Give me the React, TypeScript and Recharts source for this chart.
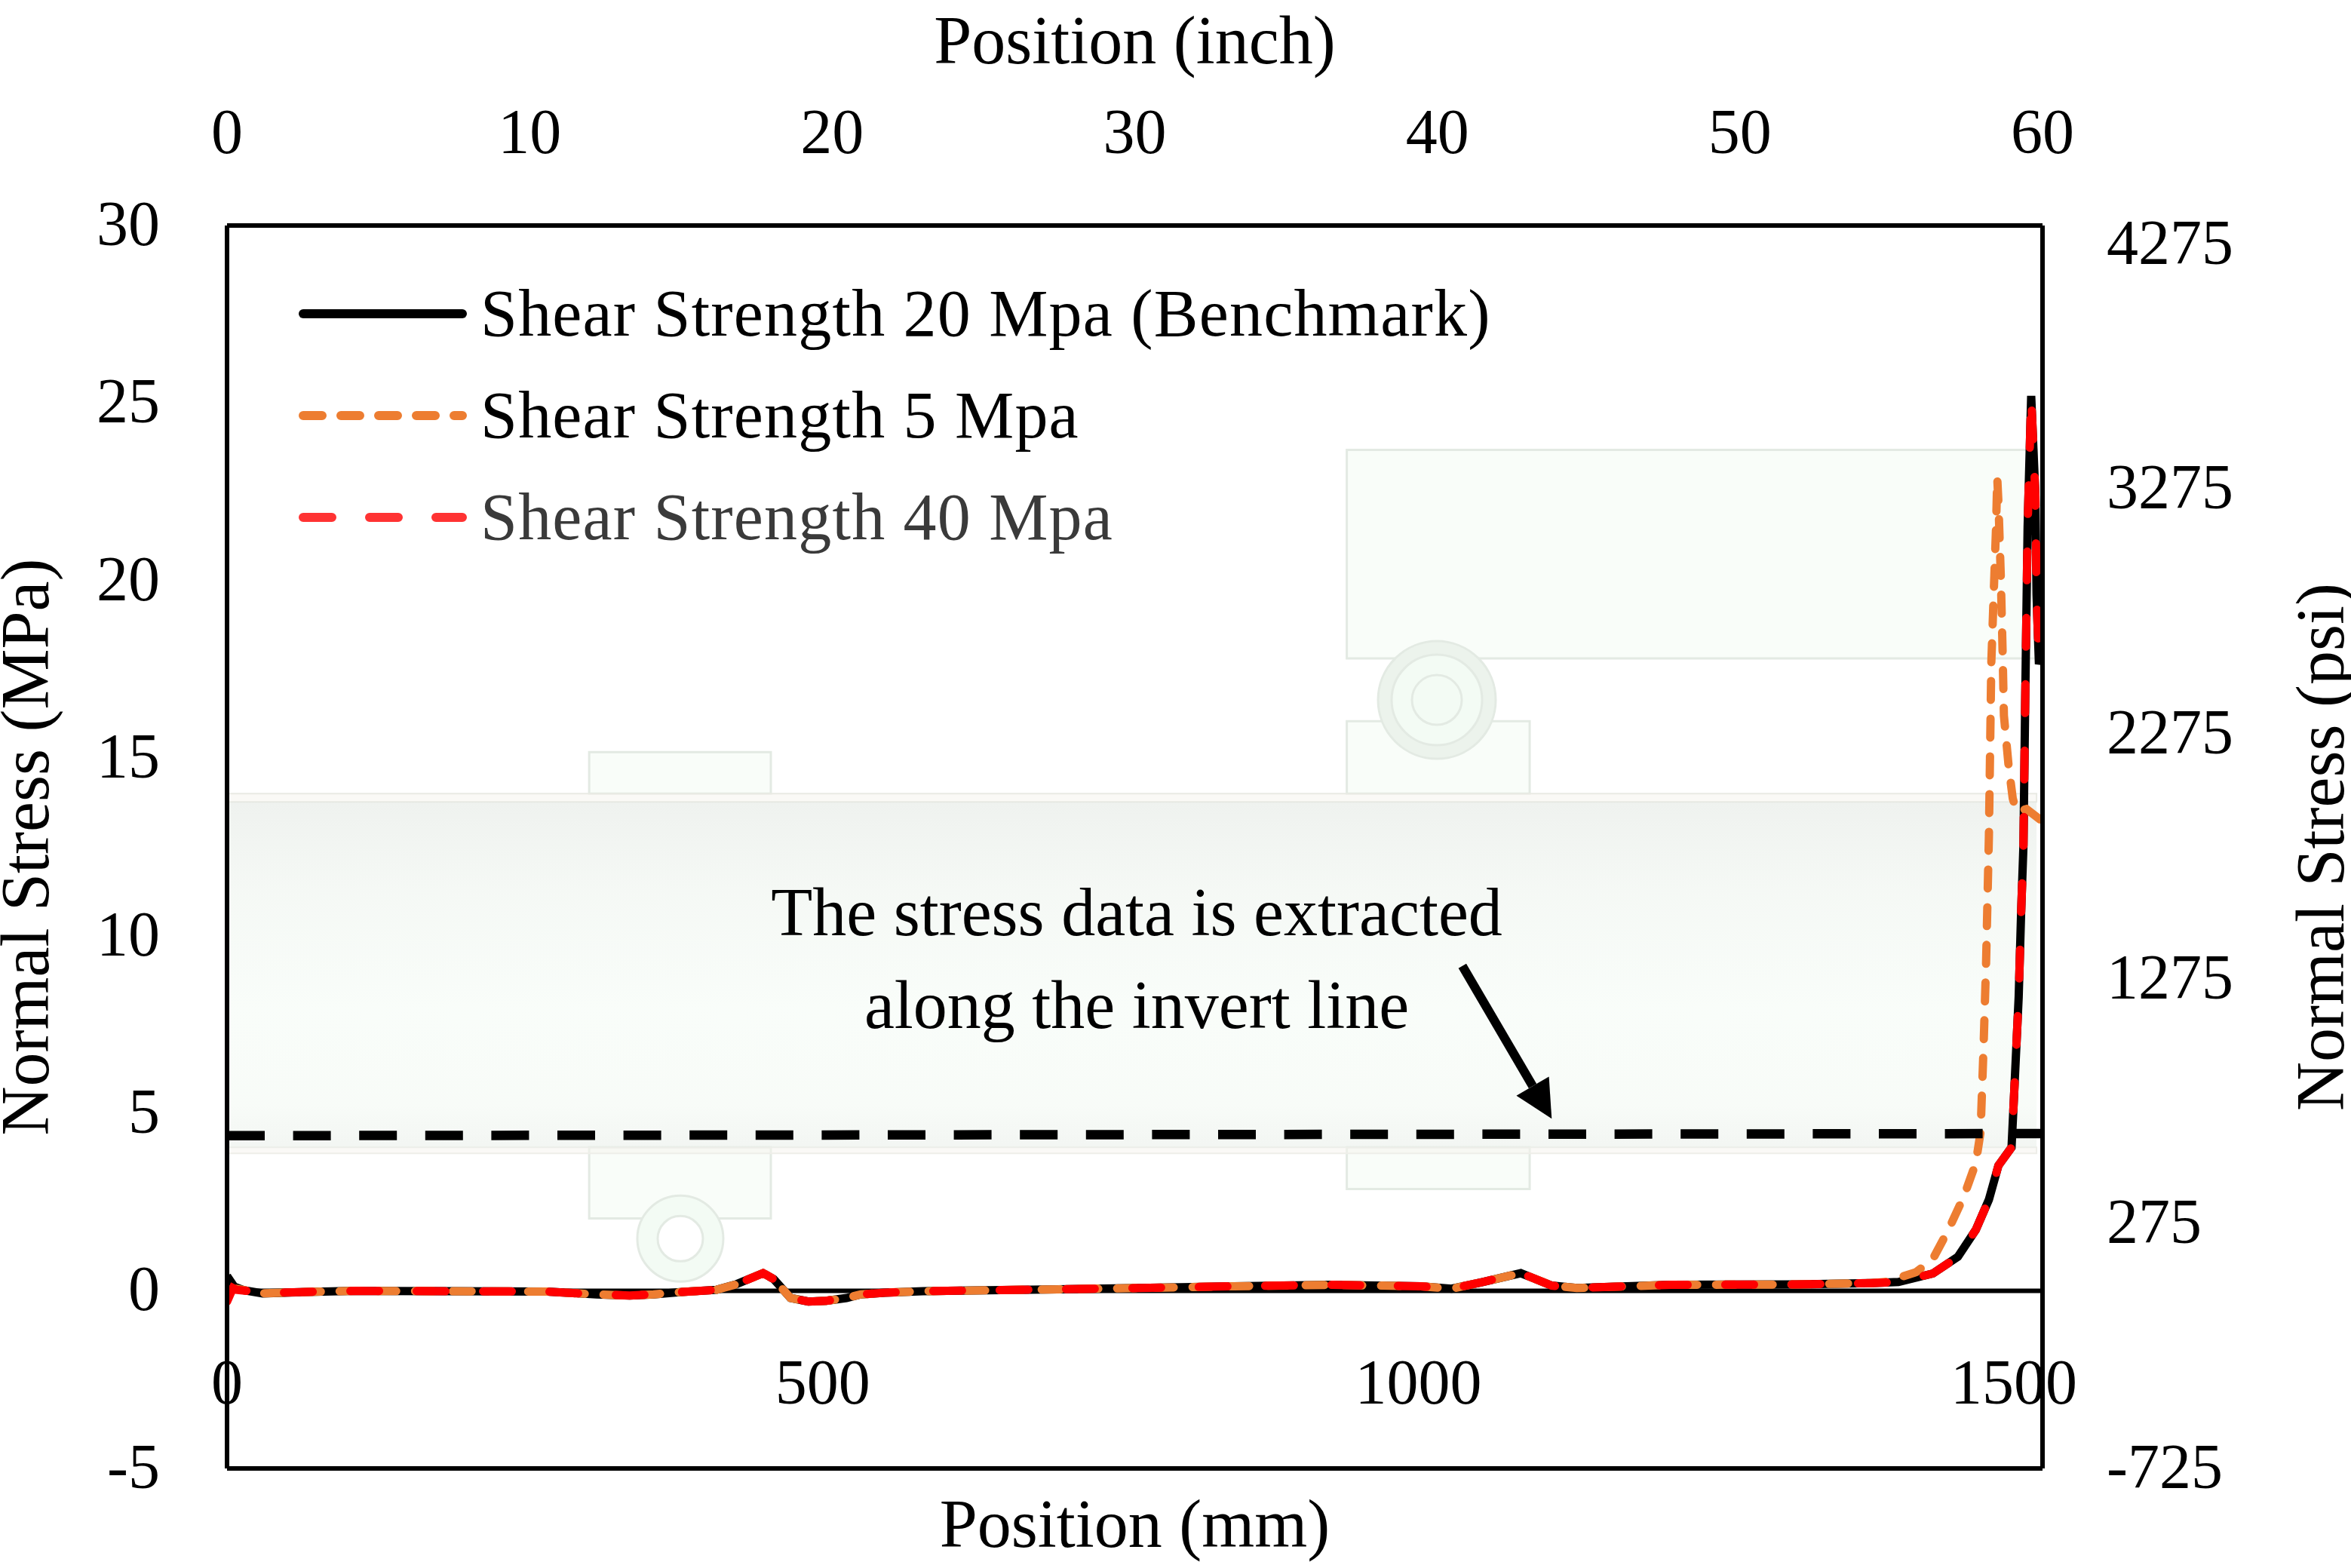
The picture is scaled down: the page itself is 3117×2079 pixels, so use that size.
import React from 'react';
import {
  ComposedChart,
  Line,
  XAxis,
  YAxis,
  Legend,
  ReferenceArea,
  ReferenceDot,
  ReferenceLine,
} from 'recharts';

// values: position in mm, normal stress in MPa
const benchmarkX = [0, 6, 14, 30, 67, 108, 188, 269, 310, 338, 358, 382, 411, 427, 450, 459, 473, 488, 503, 520, 532, 552, 584, 687, 765, 845, 928, 1002, 1028, 1054, 1086, 1112, 1133, 1212, 1317, 1380, 1403, 1432, 1453, 1468, 1479, 1487, 1498, 1500, 1504, 1506, 1508, 1509.5, 1511.5, 1514.5, 1518, 1519, 1521, 1524];
const benchmarkY = [0.42, 0.12, 0.02, -0.07, -0.03, 0, -0.01, -0.02, -0.1, -0.13, -0.1, -0.03, 0.03, 0.18, 0.5, 0.33, -0.2, -0.3, -0.28, -0.2, -0.1, -0.05, -0.01, 0.04, 0.08, 0.13, 0.17, 0.13, 0.06, 0.25, 0.5, 0.15, 0.08, 0.17, 0.18, 0.22, 0.25, 0.49, 0.96, 1.72, 2.57, 3.53, 4.04, 5.43, 8.28, 10.6, 12.55, 16.7, 21.5, 25.2, 22.4, 19.6, 17.65, 18];

const shear5X = [0, 8, 30, 67, 108, 188, 269, 310, 338, 358, 382, 411, 427, 450, 459, 473, 488, 503, 520, 532, 552, 584, 687, 765, 845, 928, 1002, 1028, 1054, 1086, 1112, 1133, 1212, 1317, 1380, 1392, 1418, 1432, 1445, 1458, 1468, 1472, 1474.5, 1476.6, 1479, 1481, 1483, 1485, 1486, 1487, 1489, 1490.5, 1491.6, 1495.5, 1499, 1502, 1510.5, 1521, 1524];
const shear5Y = [0.02, 0.06, -0.07, -0.03, 0, -0.01, -0.02, -0.1, -0.13, -0.1, -0.03, 0.03, 0.18, 0.5, 0.33, -0.2, -0.3, -0.28, -0.2, -0.1, -0.05, -0.01, 0.04, 0.08, 0.13, 0.17, 0.13, 0.06, 0.25, 0.5, 0.15, 0.08, 0.17, 0.18, 0.22, 0.25, 0.53, 0.9, 1.72, 2.66, 3.6, 4.47, 6.85, 9.2, 12.8, 17.66, 19.6, 21.5, 22.9, 22.2, 20.1, 18, 16.2, 14.8, 13.87, 13.5, 13.57, 13.3, 13.2];

const shear40X = [0, 5, 8, 35, 67, 108, 188, 269, 310, 338, 358, 382, 411, 427, 450, 459, 473, 488, 503, 520, 532, 552, 584, 687, 765, 845, 928, 1002, 1028, 1054, 1086, 1112, 1133, 1212, 1317, 1380, 1403, 1432, 1453, 1468, 1479, 1487, 1498, 1500, 1504, 1506, 1508, 1509.5, 1511.5, 1514.5, 1518, 1519, 1521];
const shear40Y = [-0.3, 0.08, 0.03, -0.06, -0.03, 0, -0.01, -0.02, -0.1, -0.13, -0.1, -0.03, 0.03, 0.18, 0.5, 0.33, -0.2, -0.3, -0.28, -0.2, -0.1, -0.05, -0.01, 0.04, 0.08, 0.13, 0.17, 0.13, 0.06, 0.25, 0.5, 0.15, 0.08, 0.17, 0.18, 0.22, 0.25, 0.49, 0.96, 1.72, 2.57, 3.53, 4.04, 5.43, 8.28, 10.6, 12.55, 16.7, 21.5, 25.2, 22.4, 19.6, 17.65];

const mmTicks = [0, 500, 1000, 1500];
const inchTicks = [0, 10, 20, 30, 40, 50, 60];
const mpaTicks = [-5, 0, 5, 10, 15, 20, 25, 30];
const psiTicks = [-725, 275, 1275, 2275, 3275, 4275];

const toPoints = (xs: number[], ys: number[]) => xs.map((x, i) => ({ x, y: ys[i] }));

const FONT = '"Liberation Serif", serif';
const tickStyle = { fontSize: 84, fill: '#000', fontFamily: FONT };

const BLACK = '#000000';
const ORANGE = '#ed7d31';
const RED = '#ff0000';

const seriesNames = ['Shear Strength 20 Mpa (Benchmark)', 'Shear Strength 5 Mpa', 'Shear Strength 40 Mpa'];
const legendDash: Record<string, { color: string; dash?: string }> = {
  [seriesNames[0]]: { color: BLACK },
  [seriesNames[1]]: { color: ORANGE, dash: '25 25' },
  [seriesNames[2]]: { color: '#ff3333', dash: '38 50' },
};

function LegendBlock({ payload }: any) {
  return (
    <div style={{ fontFamily: FONT, fontSize: 88, letterSpacing: 1.2, color: '#000' }}>
      {(payload || []).map((item: any, i: number) => {
        const style = legendDash[item.value];
        return (
          <div key={item.value} style={{ display: 'flex', alignItems: 'center', height: 135, whiteSpace: 'nowrap', color: i === 2 ? '#3a3a3a' : '#000' }}>
            <svg width={241} height={40} style={{ flex: 'none' }}>
              <line x1={6} x2={217} y1={20} y2={20} stroke={style.color} strokeWidth={12} strokeLinecap="round" strokeDasharray={style.dash} />
            </svg>
            <span>{item.value}</span>
          </div>
        );
      })}
    </div>
  );
}

function MmTick({ x, y, payload }: any) {
  return (
    <text x={x} y={y - 88} textAnchor="middle" fontSize={84} fontFamily={FONT} fill="#000">
      {payload.value}
    </text>
  );
}

function ArrowShape({ x1, y1, x2, y2 }: any) {
  const len = Math.hypot(x2 - x1, y2 - y1);
  const ux = (x2 - x1) / len;
  const uy = (y2 - y1) / len;
  const bx = x2 - ux * 50;
  const by = y2 - uy * 50;
  return (
    <g>
      <line x1={x1} y1={y1} x2={bx} y2={by} stroke="#000" strokeWidth={12} />
      <polygon points={`${x2},${y2} ${bx - uy * 25},${by + ux * 25} ${bx + uy * 25},${by - ux * 25}`} fill="#000" />
    </g>
  );
}

const axisIds = { xAxisId: 'mm', yAxisId: 'mpa' };
const ghost = { fill: '#f3fbf4', stroke: '#e3eae3', strokeWidth: 3 };

export default function App() {
  return (
    <div style={{ position: 'absolute', left: 0, top: 0, width: 3117, height: 2079, background: '#fff' }}>
      <ComposedChart
        width={3117}
        height={2079}
        margin={{ top: 0, right: 0, bottom: 0, left: 0 }}
        style={{ fontFamily: FONT }}
      >
        <defs>
          <linearGradient id="pipeShade" x1="0" y1="0" x2="0" y2="1">
            <stop offset="0" stopColor="#dfe5df" />
            <stop offset="0.25" stopColor="#ebf2eb" />
            <stop offset="0.6" stopColor="#f3fbf4" />
            <stop offset="0.88" stopColor="#f1f8f1" />
            <stop offset="1" stopColor="#e6ece6" />
          </linearGradient>
        </defs>

        <XAxis
          xAxisId="mm"
          dataKey="x"
          type="number"
          orientation="bottom"
          domain={[0, 1524]}
          allowDataOverflow
          ticks={mmTicks}
          interval={0}
          height={132}
          tickLine={false}
          tickSize={0}
          tick={<MmTick />}
          axisLine={{ stroke: '#000', strokeWidth: 6 }}
          label={{ value: 'Position (mm)', position: 'insideBottom', offset: 28, fontSize: 90, fill: '#000', fontFamily: FONT }}
        />
        <XAxis
          xAxisId="inch"
          dataKey="inch"
          type="number"
          orientation="top"
          domain={[0, 60]}
          allowDataOverflow
          ticks={inchTicks}
          interval={0}
          height={299}
          tickLine={false}
          tickSize={0}
          tickMargin={96}
          tick={tickStyle}
          axisLine={{ stroke: '#000', strokeWidth: 6 }}
          label={{ value: 'Position (inch)', position: 'insideTop', offset: 20, fontSize: 90, fill: '#000', fontFamily: FONT }}
        />
        <YAxis
          yAxisId="mpa"
          type="number"
          domain={[-5, 30]}
          allowDataOverflow
          ticks={mpaTicks}
          interval={0}
          width={301}
          tickLine={false}
          tickSize={0}
          tickMargin={89}
          tick={{ ...tickStyle, dy: -4 }}
          axisLine={{ stroke: '#000', strokeWidth: 6 }}
          label={{ value: 'Normal Stress (MPa)', angle: -90, position: 'insideLeft', offset: 32, fontSize: 90, fill: '#000', fontFamily: FONT, style: { textAnchor: 'middle' } }}
        />
        <YAxis
          yAxisId="psi"
          orientation="right"
          type="number"
          domain={[-725, 4352]}
          allowDataOverflow
          ticks={psiTicks}
          interval={0}
          width={409}
          tickLine={false}
          tickSize={0}
          tickMargin={85}
          tick={{ ...tickStyle, dy: -4 }}
          axisLine={{ stroke: '#000', strokeWidth: 6 }}
          label={{ value: 'Normal Stress (psi)', angle: -90, position: 'insideRight', offset: 42, fontSize: 90, fill: '#000', fontFamily: FONT, style: { textAnchor: 'middle' } }}
        />

        {/* faint specimen picture behind the curves */}
        <ReferenceDot {...axisIds} x={1015.6} y={16.64} r={78} {...ghost} fill="#ecf3ec" />
        <ReferenceDot {...axisIds} x={1015.6} y={16.64} r={60} {...ghost} />
        <ReferenceDot {...axisIds} x={1015.6} y={16.64} r={33} {...ghost} />
        <ReferenceDot {...axisIds} x={380.5} y={1.47} r={57} {...ghost} />
        <ReferenceDot {...axisIds} x={380.5} y={1.47} r={30} {...ghost} fill="#ffffff" />
        <ReferenceArea {...axisIds} x1={940} x2={1519} y1={17.81} y2={23.68} {...ghost} />
        <ReferenceArea {...axisIds} x1={940} x2={1093.5} y1={14} y2={16.04} {...ghost} />
        <ReferenceArea {...axisIds} x1={940} x2={1093.5} y1={2.87} y2={4.04} {...ghost} />
        <ReferenceArea {...axisIds} x1={304} x2={456.5} y1={14} y2={15.17} {...ghost} />
        <ReferenceArea {...axisIds} x1={304} x2={456.5} y1={2.04} y2={4.04} {...ghost} />
        <ReferenceArea {...axisIds} x1={0} x2={1519} y1={13.77} y2={14} fill="#f5f4ee" stroke="#e9eae4" strokeWidth={2} />
        <ReferenceArea {...axisIds} x1={0} x2={1519} y1={3.87} y2={4.04} fill="#f5f4ee" stroke="#eeeee9" strokeWidth={2} />
        <ReferenceArea {...axisIds} x1={0} x2={1519} y1={4.04} y2={13.77} fill="url(#pipeShade)" stroke="none" />

        <ReferenceLine {...axisIds} y={0} stroke="#000" strokeWidth={6} />

        <Line {...axisIds} data={toPoints(benchmarkX, benchmarkY)} dataKey="y" name={seriesNames[0]} type="linear" stroke={BLACK} strokeWidth={11} dot={false} isAnimationActive={false} />
        <Line {...axisIds} data={toPoints(shear5X, shear5Y)} dataKey="y" name={seriesNames[1]} type="linear" stroke={ORANGE} strokeWidth={11} strokeDasharray="25 25" strokeLinecap="round" dot={false} isAnimationActive={false} />
        <Line {...axisIds} data={toPoints(shear40X, shear40Y)} dataKey="y" name={seriesNames[2]} type="linear" stroke={RED} strokeWidth={11} strokeDasharray="38 50" strokeLinecap="round" dot={false} isAnimationActive={false} />

        <ReferenceLine
          {...axisIds}
          segment={[{ x: 0, y: 4.37 }, { x: 1524, y: 4.43 }]}
          stroke="#000"
          strokeWidth={12.5}
          strokeDasharray="50 37.6"
        />
        <ReferenceLine {...axisIds} segment={[{ x: 1037, y: 9.15 }, { x: 1112, y: 4.85 }]} shape={<ArrowShape />} />
        <ReferenceDot {...axisIds} x={763.6} y={10.7} r={0} fill="none" stroke="none" label={{ value: 'The stress data is extracted', position: 'center', fontSize: 90, fill: '#000', fontFamily: FONT }} />
        <ReferenceDot {...axisIds} x={763.6} y={8.09} r={0} fill="none" stroke="none" label={{ value: 'along the invert line', position: 'center', fontSize: 90, fill: '#000', fontFamily: FONT }} />

        <Legend
          layout="vertical"
          align="center"
          verticalAlign="middle"
          itemSorter={(item: any) => seriesNames.indexOf(item.value)}
          content={<LegendBlock />}
          wrapperStyle={{ left: 396, top: 348, right: 'auto', bottom: 'auto', width: 1700 }}
        />
      </ComposedChart>
    </div>
  );
}
